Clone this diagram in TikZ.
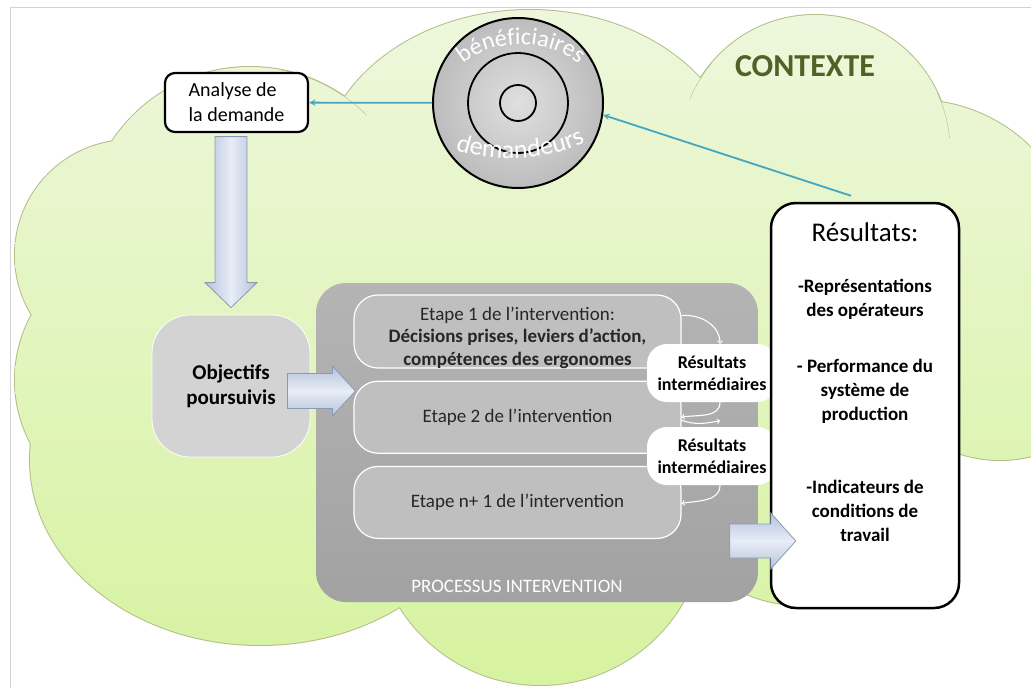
\documentclass[tikz,border=0pt]{standalone}
\usepackage{fontspec}
\setmainfont{Carlito}
\usetikzlibrary{positioning,decorations.text}

\definecolor{nuagehaut}{HTML}{EEF7DD}
\definecolor{nuagebas}{HTML}{D6F3A0}
\definecolor{nuagebord}{HTML}{B5BE88}
\definecolor{lienbleu}{HTML}{45A6BD}
\definecolor{vertfonce}{HTML}{4F6228}
\definecolor{blocclair}{HTML}{E8EDF6}
\definecolor{blocfonce}{HTML}{B4C3DB}
\definecolor{blocbord}{HTML}{8A9AB2}
\definecolor{grisprochaut}{HTML}{B4B4B4}
\definecolor{grisprocbas}{HTML}{A2A2A2}
\definecolor{grisetape}{HTML}{BFBFBF}
\definecolor{grisobj}{HTML}{D3D3D3}

\newcommand\nuagepuffs{(250,-232) circle[radius=165] (150,-380) circle[radius=135]
  (130,-255) circle[radius=115]
  (260,-460) ellipse[x radius=230, y radius=185] (540,-520) circle[radius=165]
  (800,-470) circle[radius=135] (1000,-330) circle[radius=130]
  (915,-265) circle[radius=165] (815,-150) circle[radius=135]
  (530,-175) ellipse[x radius=210, y radius=165] (540,-360) ellipse[x radius=380, y radius=230]}

\begin{document}
\begin{tikzpicture}[>=stealth, x=1pt, y=1pt,
  boite/.style={draw=black, line width=2.2pt, fill=white, rounded corners=10pt},
  etape/.style={draw=white, line width=1.2pt, fill=grisetape, rounded corners=24pt,
    minimum width=327pt, minimum height=72pt, align=center, text=black!85,
    font=\fontsize{19}{22.5}\selectfont},
  inter/.style={fill=white, rounded corners=20pt, minimum width=130pt, minimum height=58pt,
    align=center, font=\fontsize{18}{22}\selectfont\bfseries},
  blocv/.style={draw=blocbord, line width=0.8pt, left color=blocfonce, right color=blocfonce,
    middle color=blocclair},
  bloch/.style={draw=blocbord, line width=0.8pt, top color=blocfonce, bottom color=blocfonce,
    middle color=blocclair},
  lien/.style={->, draw=lienbleu, line width=1.8pt},
  petite/.style={-to, white, line width=1.1pt},
  restexte/.style={align=center, font=\fontsize{19}{24}\selectfont\bfseries},
  arctexte/.style={decorate, decoration={text along path, text align=center, text color=white}}]

  \useasboundingbox (0,0) rectangle (1031,-688);
  \fill[white] (0,0) rectangle (1031,-688);
  \draw[gray!35] (10,-695) -- (10,-7) -- (1040,-7);

  \draw[nuagebord, line width=2pt] \nuagepuffs;
  \begin{scope}
    \clip \nuagepuffs;
    \shade[top color=nuagehaut, bottom color=nuagebas] (0,0) rectangle (1031,-688);
  \end{scope}
  \draw[nuagebord] (250,-232) ++(79:165) arc[start angle=79, end angle=45, radius=165];
  \draw[nuagebord] (815,-150) ++(140:135) arc[start angle=140, end angle=158, radius=135];
  \draw[nuagebord] (815,-150) ++(25:135) arc[start angle=25, end angle=5, radius=135];

  \node[font=\fontsize{32}{32}\selectfont\bfseries, text=vertfonce] (contexte) at (805,-66) {CONTEXTE};

  \node[circle, draw=black, line width=2pt, minimum size=170pt, inner color=gray!25,
    outer color=gray!52] (cible) at (518,-103) {};
  \draw[line width=1.8pt] (cible.center) circle[radius=50];
  \draw[line width=1.8pt] (cible.center) circle[radius=18];
  \path[arctexte, decoration={text={|\fontsize{24}{24}\selectfont|bénéficiaires}}]
    (454,-73) .. controls (484,-35) and (556,-35) .. (588,-73);
  \path[arctexte, decoration={text={|\fontsize{26}{26}\selectfont|demandeurs}}]
    (444,-145) .. controls (479,-164) and (556,-164) .. (596,-136);

  \node[boite, minimum width=143pt, minimum height=59pt, align=left,
    font=\fontsize{20}{25}\selectfont] (analyse) at (236.5,-102.5) {Analyse de\\la demande};

  \node[fill=grisobj, draw=white, line width=0.8pt, rounded corners=38pt, minimum width=158pt,
    minimum height=142pt, align=center, font=\fontsize{21}{25}\selectfont\bfseries]
    (objectifs) at (231,-386) {Objectifs\\poursuivis};

  \node[top color=grisprochaut, bottom color=grisprocbas, rounded corners=30pt,
    minimum width=442pt, minimum height=319pt] (processus) at (537,-442.5) {};
  \node[text=white, font=\fontsize{19}{19}\selectfont] (titreproc) at (517,-586)
    {PROCESSUS INTERVENTION};

  \node[etape, minimum height=73pt] (etape1) at (517.5,-331.5) {};
  \node[align=center, text=black!85, font=\fontsize{19}{22.5}\selectfont] (etape1texte)
    at ([yshift=-6pt]etape1.center)
    {Etape 1 de l’intervention:\\\textbf{Décisions prises, leviers d’action,}\\\textbf{compétences des ergonomes}};
  \node[etape, below=12pt of etape1] (etape2) {Etape 2 de l’intervention};
  \node[etape, below=12pt of etape2] (etape3) {Etape n+ 1 de l’intervention};

  \node[inter] (inter1) at (712,-373) {Résultats\\intermédiaires};
  \node[inter] (inter2) at (712,-456) {Résultats\\intermédiaires};

  \draw[petite] ([yshift=16pt]etape1.east) to[out=5, in=90] ([xshift=8pt]inter1.north);
  \draw[petite] ([xshift=8pt]inter1.south) to[out=-90, in=10] (etape2.east);
  \draw[petite] ([yshift=-3pt]etape2.east) to[out=-20, in=190] ([xshift=8pt,yshift=6pt]inter2.north);
  \draw[petite] ([xshift=8pt]inter2.south) to[out=-90, in=10] ([yshift=-1pt]etape3.east);

  \node[draw=black, line width=2.5pt, fill=white, rounded corners=25pt, minimum width=188pt,
    minimum height=405pt] (resultats) at (865,-405.5) {};
  \node[font=\fontsize{27}{27}\selectfont] (resTitre) at (865,-232) {Résultats:};
  \node[restexte] (resRep) at (865,-299.5) {-Représentations\\des opérateurs};
  \node[restexte] (resPerf) at (865,-391) {- Performance du\\système de\\production};
  \node[restexte] (resInd) at (865,-511) {-Indicateurs de\\conditions de\\travail};

  \draw[blocv] ([yshift=7pt]objectifs.north) -- ++(26,25) -- ++(-10,0) -- ++(0,146)
    -- ++(-32,0) -- ++(0,-146) -- ++(-10,0) -- cycle;
  \draw[bloch] ([shift={(45pt,-5pt)}]objectifs.east) -- ++(-23,25) -- ++(0,-7.5) -- ++(-45,0)
    -- ++(0,-35) -- ++(45,0) -- ++(0,-7.5) -- cycle;
  \draw[bloch] ([shift={(26pt,-135.5pt)}]resultats.west) -- ++(-25,28) -- ++(0,-11) -- ++(-41,0)
    -- ++(0,-34) -- ++(41,0) -- ++(0,-11) -- cycle;

  \draw[lien] (cible) -- (analyse);
  \draw[lien] ([xshift=-14pt,yshift=6pt]resultats.north) -- (cible.-8);
\end{tikzpicture}
\end{document}
